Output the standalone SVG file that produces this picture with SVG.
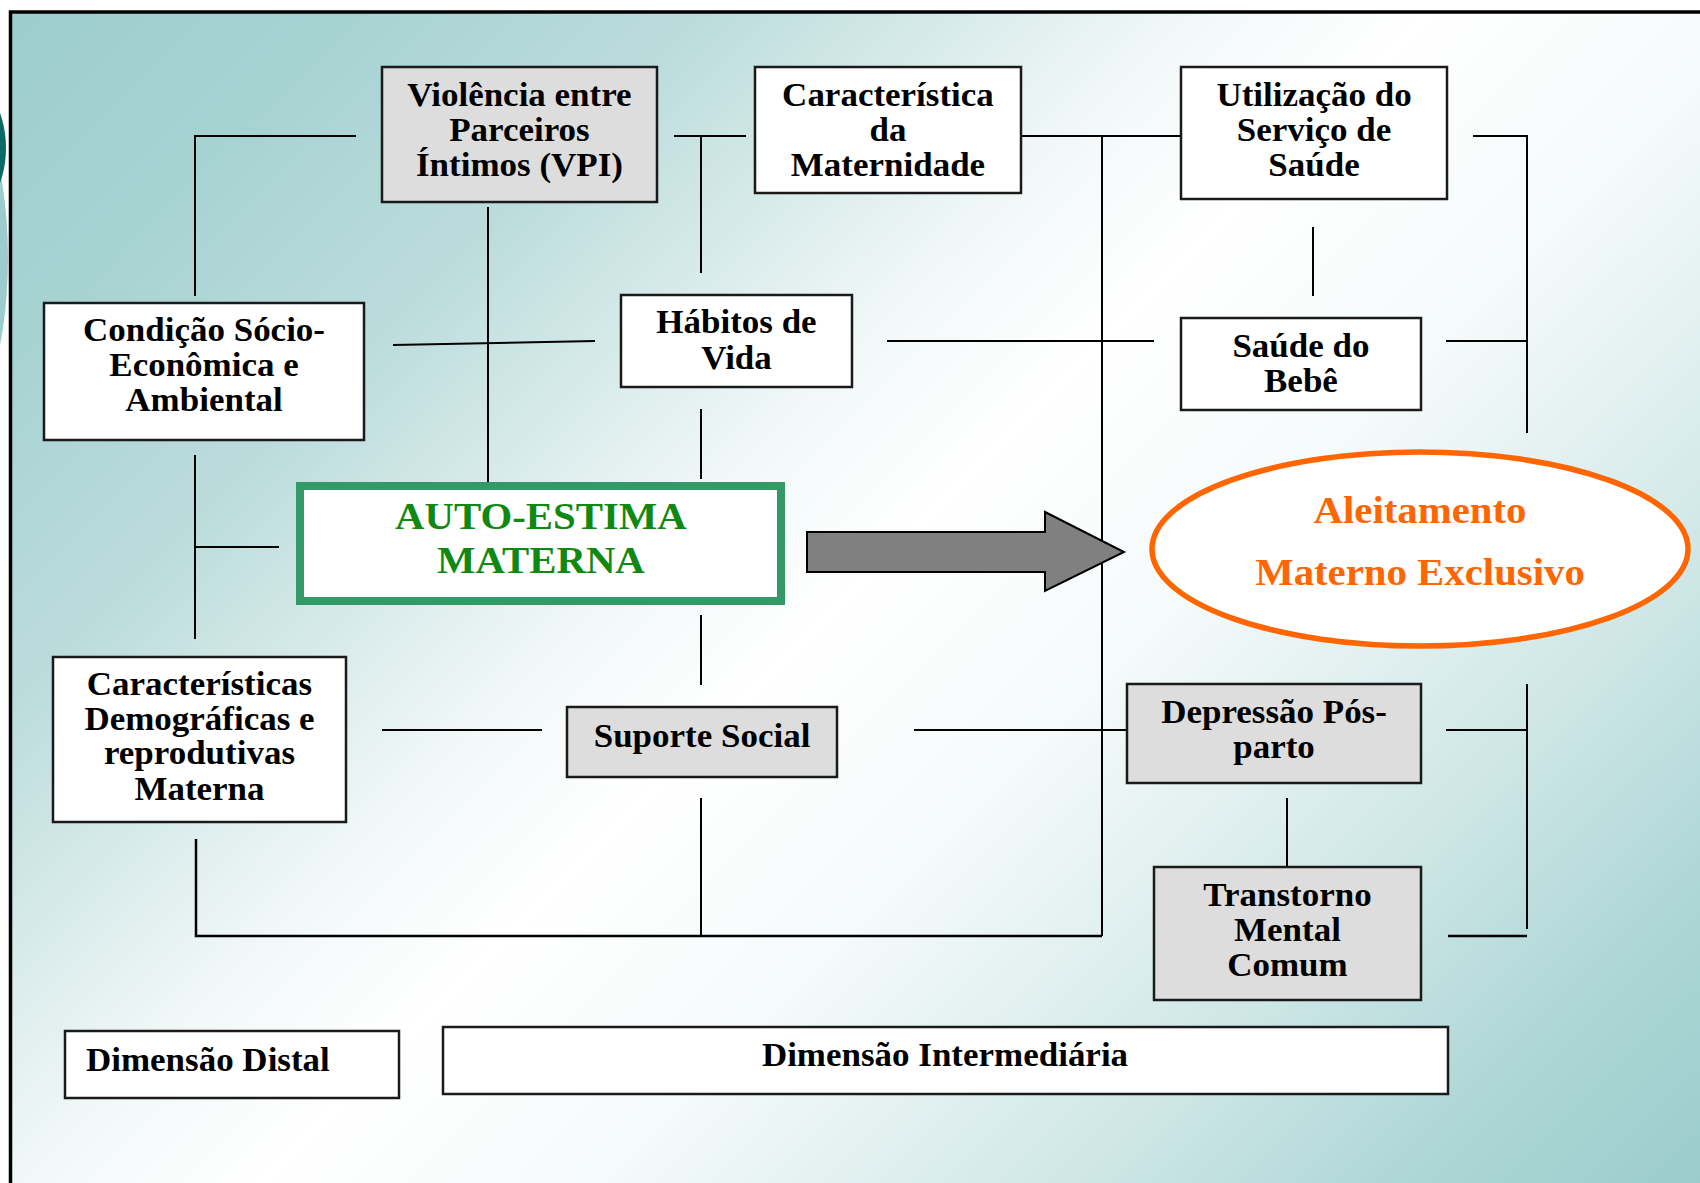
<svg xmlns="http://www.w3.org/2000/svg" width="1700" height="1183" viewBox="0 0 1700 1183">
<defs>
<linearGradient id="bg" gradientUnits="userSpaceOnUse" x1="0" y1="0" x2="1440" y2="1440">
<stop offset="0" stop-color="#9dcdcd"/>
<stop offset="0.12" stop-color="#a6d2d2"/>
<stop offset="0.25" stop-color="#bcdcdc"/>
<stop offset="0.42" stop-color="#f2f8f8"/>
<stop offset="0.5" stop-color="#ffffff"/>
<stop offset="0.62" stop-color="#f5fafa"/>
<stop offset="0.78" stop-color="#d0e7e7"/>
<stop offset="0.9" stop-color="#add6d6"/>
<stop offset="1" stop-color="#9ccccc"/>
</linearGradient>
<style>
.box{stroke:#1a1a1a;stroke-width:2.5}
.w{fill:#ffffff}
.g{fill:#dddddd}
.t{font-family:"Liberation Serif","Times New Roman",serif;font-weight:bold;font-size:33px;fill:#000;text-anchor:middle}
.big{font-family:"Liberation Serif","Times New Roman",serif;font-weight:bold;font-size:38.5px;text-anchor:middle}
.ln{stroke:#000;stroke-width:2;fill:none}
</style>
</defs>
<rect x="0" y="0" width="1700" height="1183" fill="#ffffff"/>
<ellipse cx="-62" cy="258" rx="70" ry="188" fill="#9ccccc"/>
<ellipse cx="-42" cy="148" rx="48" ry="72" fill="#0b6a66"/>
<rect x="10.5" y="12" width="1720" height="1200" fill="url(#bg)" stroke="#000" stroke-width="3.5"/>

<g id="connectors">
<polyline class="ln" points="356,136 195,136 195,296"/>
<line class="ln" x1="674" y1="136" x2="746" y2="136"/>
<line class="ln" x1="701" y1="136" x2="701" y2="273"/>
<line class="ln" x1="1021" y1="136" x2="1181" y2="136"/>
<line class="ln" x1="1102" y1="136" x2="1102" y2="936"/>
<polyline class="ln" points="1473,136 1527,136 1527,433"/>
<line class="ln" x1="1313" y1="227" x2="1313" y2="296"/>
<line class="ln" x1="393" y1="345" x2="595" y2="341"/>
<line class="ln" x1="488" y1="207" x2="488" y2="483"/>
<line class="ln" x1="887" y1="341" x2="1154" y2="341"/>
<line class="ln" x1="1446" y1="341" x2="1527" y2="341"/>
<line class="ln" x1="195" y1="455" x2="195" y2="639"/>
<line class="ln" x1="195" y1="547" x2="279" y2="547"/>
<line class="ln" x1="701" y1="409" x2="701" y2="479"/>
<line class="ln" x1="701" y1="615" x2="701" y2="685"/>
<line class="ln" x1="382" y1="730" x2="542" y2="730"/>
<line class="ln" x1="914" y1="730" x2="1127" y2="730"/>
<line class="ln" x1="1446" y1="730" x2="1527" y2="730"/>
<line class="ln" x1="1527" y1="684" x2="1527" y2="929"/>
<line class="ln" x1="1287" y1="798" x2="1287" y2="867"/>
<polyline class="ln" points="196,839 196,936 1102,936" style="stroke-width:2.5"/>
<line class="ln" x1="701" y1="798" x2="701" y2="936"/>
<line class="ln" x1="1448" y1="936" x2="1527" y2="936" style="stroke-width:2.5"/>
<polygon id="arrow" points="807,532 1045,532 1045,512 1124,552 1045,591 1045,572 807,572" fill="#808080" stroke="#000" stroke-width="2"/>
</g>

<g id="violencia">
<rect class="box g" x="382" y="67" width="275" height="135"/>
<text class="t" transform="matrix(1.06 0 0 1 -31.2 0)"><tspan x="519.5" y="106">Violência entre</tspan><tspan x="519.5" y="141">Parceiros</tspan><tspan x="519.5" y="176">Íntimos (VPI)</tspan></text>
</g>
<g id="caracteristica-maternidade">
<rect class="box w" x="755" y="67" width="266" height="126"/>
<text class="t" transform="matrix(1.06 0 0 1 -53.3 0)"><tspan x="888" y="106">Característica</tspan><tspan x="888" y="141">da</tspan><tspan x="888" y="176">Maternidade</tspan></text>
</g>
<g id="utilizacao">
<rect class="box w" x="1181" y="67" width="266" height="132"/>
<text class="t" transform="matrix(1.06 0 0 1 -78.8 0)"><tspan x="1314" y="106">Utilização do</tspan><tspan x="1314" y="141">Serviço de</tspan><tspan x="1314" y="176">Saúde</tspan></text>
</g>
<g id="condicao">
<rect class="box w" x="44" y="303" width="320" height="137"/>
<text class="t" transform="matrix(1.06 0 0 1 -12.2 0)"><tspan x="204" y="341">Condição Sócio-</tspan><tspan x="204" y="376">Econômica e</tspan><tspan x="204" y="411">Ambiental</tspan></text>
</g>
<g id="habitos">
<rect class="box w" x="621" y="295" width="231" height="92"/>
<text class="t" transform="matrix(1.06 0 0 1 -44.2 0)"><tspan x="736.5" y="333">Hábitos de</tspan><tspan x="736.5" y="369">Vida</tspan></text>
</g>
<g id="saude-bebe">
<rect class="box w" x="1181" y="318" width="240" height="92"/>
<text class="t" transform="matrix(1.06 0 0 1 -78.1 0)"><tspan x="1301" y="357">Saúde do</tspan><tspan x="1301" y="392">Bebê</tspan></text>
</g>
<g id="auto-estima">
<rect x="300" y="486" width="481" height="115" fill="#ffffff" stroke="#339966" stroke-width="8"/>
<text class="big" fill="#118811" transform="matrix(1.06 0 0 1 -32.5 0)"><tspan x="541" y="529">AUTO-ESTIMA</tspan><tspan x="541" y="573">MATERNA</tspan></text>
</g>
<g id="aleitamento">
<ellipse cx="1420" cy="549" rx="268" ry="97" fill="#ffffff" stroke="#ff6600" stroke-width="5.5"/>
<text class="big" fill="#ff6600" transform="matrix(1.06 0 0 1 -85.2 0)"><tspan x="1420" y="523">Aleitamento</tspan><tspan x="1420" y="585">Materno Exclusivo</tspan></text>
</g>
<g id="caracteristicas-demograficas">
<rect class="box w" x="53" y="657" width="293" height="165"/>
<text class="t" transform="matrix(1.06 0 0 1 -12 0)"><tspan x="199.5" y="695">Características</tspan><tspan x="199.5" y="730">Demográficas e</tspan><tspan x="199.5" y="764">reprodutivas</tspan><tspan x="199.5" y="800">Materna</tspan></text>
</g>
<g id="suporte-social">
<rect class="box g" x="567" y="707" width="270" height="70"/>
<text class="t" transform="matrix(1.06 0 0 1 -42.1 0)"><tspan x="702" y="747">Suporte Social</tspan></text>
</g>
<g id="depressao">
<rect class="box g" x="1127" y="684" width="294" height="99"/>
<text class="t" transform="matrix(1.06 0 0 1 -76.4 0)"><tspan x="1274" y="723">Depressão Pós-</tspan><tspan x="1274" y="758">parto</tspan></text>
</g>
<g id="transtorno">
<rect class="box g" x="1154" y="867" width="267" height="133"/>
<text class="t" transform="matrix(1.06 0 0 1 -77.3 0)"><tspan x="1287.5" y="906">Transtorno</tspan><tspan x="1287.5" y="941">Mental</tspan><tspan x="1287.5" y="976">Comum</tspan></text>
</g>
<g id="dimensao-distal">
<rect class="box w" x="65" y="1031" width="334" height="67"/>
<text class="t" style="text-anchor:start" transform="matrix(1.06 0 0 1 -5.2 0)"><tspan x="86" y="1071">Dimensão Distal</tspan></text>
</g>
<g id="dimensao-intermediaria">
<rect class="box w" x="443" y="1027" width="1005" height="67"/>
<text class="t" transform="matrix(1.06 0 0 1 -56.7 0)"><tspan x="945" y="1066">Dimensão Intermediária</tspan></text>
</g>
</svg>
